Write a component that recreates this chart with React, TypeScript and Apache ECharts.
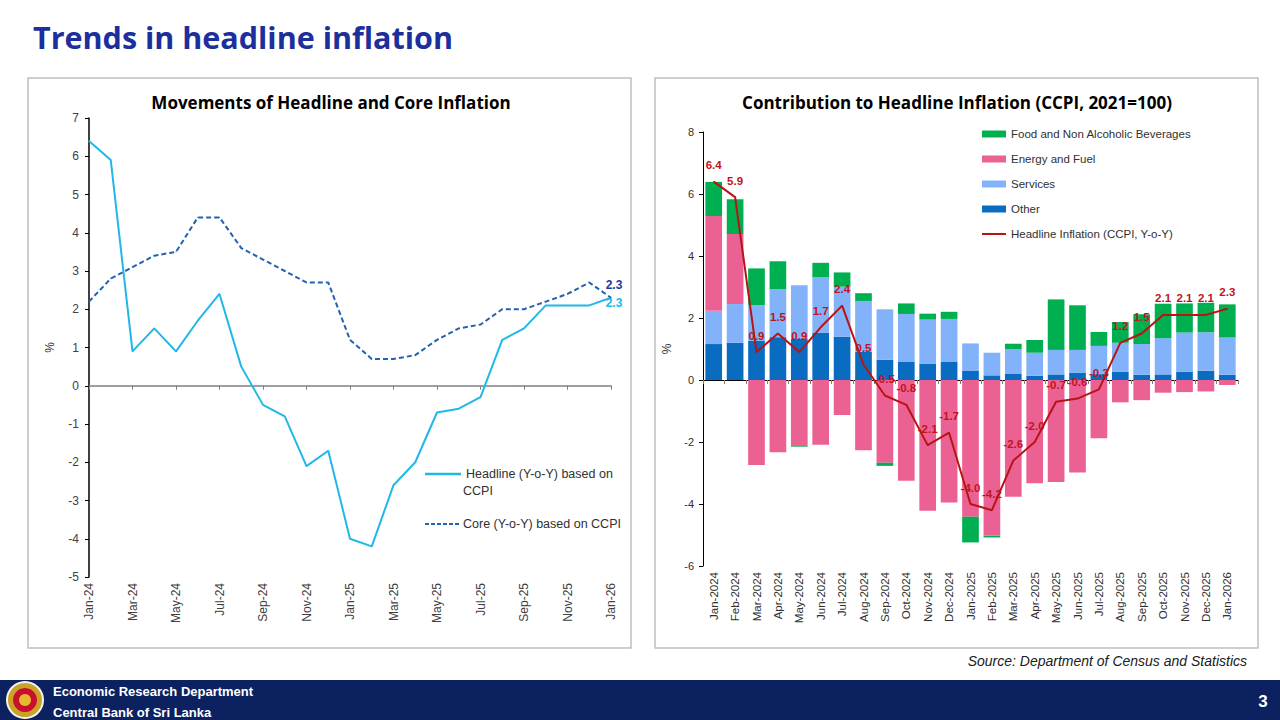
import React, { useEffect, useRef } from "react";
import * as echarts from "echarts";

const shortMonths = [
  "Jan-24","Feb-24","Mar-24","Apr-24","May-24","Jun-24","Jul-24","Aug-24","Sep-24","Oct-24","Nov-24","Dec-24",
  "Jan-25","Feb-25","Mar-25","Apr-25","May-25","Jun-25","Jul-25","Aug-25","Sep-25","Oct-25","Nov-25","Dec-25","Jan-26",
];
const longMonths = [
  "Jan-2024","Feb-2024","Mar-2024","Apr-2024","May-2024","Jun-2024","Jul-2024","Aug-2024","Sep-2024","Oct-2024","Nov-2024","Dec-2024",
  "Jan-2025","Feb-2025","Mar-2025","Apr-2025","May-2025","Jun-2025","Jul-2025","Aug-2025","Sep-2025","Oct-2025","Nov-2025","Dec-2025","Jan-2026",
];

const headline = [6.4,5.9,0.9,1.5,0.9,1.7,2.4,0.5,-0.5,-0.8,-2.1,-1.7,-4.0,-4.2,-2.6,-2.0,-0.7,-0.6,-0.3,1.2,1.5,2.1,2.1,2.1,2.3];
const core = [2.2,2.8,3.1,3.4,3.5,4.4,4.4,3.6,3.3,3.0,2.7,2.7,1.2,0.7,0.7,0.8,1.2,1.5,1.6,2.0,2.0,2.2,2.4,2.7,2.3];

const other = [1.16,1.20,1.27,1.38,1.34,1.53,1.40,0.91,0.65,0.58,0.53,0.58,0.29,0.15,0.21,0.14,0.18,0.24,0.19,0.26,0.17,0.18,0.27,0.30,0.17];
const services = [1.07,1.25,1.15,1.55,1.72,1.78,1.61,1.64,1.63,1.55,1.42,1.39,0.89,0.73,0.78,0.74,0.79,0.73,0.91,0.94,0.99,1.17,1.26,1.24,1.20];
const energy = [3.06,2.26,-2.74,-2.33,-2.14,-2.09,-1.13,-2.27,-2.67,-3.25,-4.22,-3.95,-4.41,-5.02,-3.77,-3.33,-3.29,-2.98,-1.88,-0.72,-0.65,-0.41,-0.39,-0.37,-0.16];
const food = [1.10,1.12,1.18,0.90,-0.02,0.47,0.46,0.25,-0.10,0.34,0.19,0.23,-0.83,-0.06,0.18,0.41,1.63,1.44,0.45,0.67,0.96,1.11,0.94,0.95,1.07];

const leftTitle = "Movements of Headline and Core Inflation";
const rightTitle = "Contribution to Headline Inflation (CCPI, 2021=100)";
const legendNames = [
  "Food and Non Alcoholic Beverages",
  "Energy and Fuel",
  "Services",
  "Other",
  "Headline Inflation (CCPI, Y-o-Y)",
];

const FONT = "'Liberation Sans', Arial, sans-serif";
const TFONT = "'Open Sans', 'Liberation Sans', Arial, sans-serif";

export default function App() {
  const ref = useRef<HTMLDivElement>(null);
  useEffect(() => {
    if (!ref.current) return;
    const chart = echarts.init(ref.current, null, { renderer: "svg" });
    const last = headline.length - 1;
    const labelLast = (arr: number[], label: any) =>
      arr.map((v, i) => (i === last ? { value: v, label } : v));

    const option: any = {
      animation: false,
      backgroundColor: "#ffffff",
      textStyle: { fontFamily: FONT },
      grid: [
        { left: 89, top: 118, width: 522, height: 459, outerBoundsMode: "none", containLabel: false },
        { left: 703, top: 132, width: 535, height: 434, outerBoundsMode: "none", containLabel: false },
      ],
      xAxis: [
        {
          type: "category",
          gridIndex: 0,
          data: shortMonths,
          boundaryGap: false,
          axisLine: { onZero: true, lineStyle: { color: "#808080", width: 1.5 } },
          axisTick: { show: true, interval: 1, length: 4, lineStyle: { color: "#808080" } },
          axisLabel: { interval: 1, rotate: 90, margin: 6, fontSize: 12, color: "#404040", fontFamily: FONT },
          splitLine: { show: false },
        },
        {
          type: "category",
          gridIndex: 1,
          data: longMonths,
          boundaryGap: true,
          axisLine: { onZero: true, lineStyle: { color: "#000000", width: 1 } },
          axisTick: { show: true, length: 4, lineStyle: { color: "#808080" } },
          axisLabel: { interval: 0, rotate: 90, margin: 6, fontSize: 11.5, color: "#303030", fontFamily: FONT },
          splitLine: { show: false },
        },
      ],
      yAxis: [
        {
          type: "value",
          gridIndex: 0,
          min: -5,
          max: 7,
          interval: 1,
          name: "%",
          nameLocation: "middle",
          nameGap: 33,
          nameRotate: 90,
          nameTextStyle: { fontSize: 12, color: "#303030", fontFamily: FONT },
          axisLine: { show: true, lineStyle: { color: "#000000", width: 1.5 } },
          axisTick: { show: true, length: 4, lineStyle: { color: "#000000" } },
          axisLabel: { fontSize: 12, color: "#404040", margin: 10, fontFamily: FONT },
          splitLine: { show: false },
        },
        {
          type: "value",
          gridIndex: 1,
          min: -6,
          max: 8,
          interval: 2,
          name: "%",
          nameLocation: "middle",
          nameGap: 30,
          nameRotate: 90,
          nameTextStyle: { fontSize: 12, color: "#303030", fontFamily: FONT },
          axisLine: { show: true, lineStyle: { color: "#000000", width: 1 } },
          axisTick: { show: true, length: 4, lineStyle: { color: "#000000" } },
          axisLabel: { fontSize: 11, color: "#303030", margin: 9, fontFamily: FONT },
          splitLine: { show: false },
        },
      ],
      legend: {
        orient: "vertical",
        left: 982,
        top: 128,
        padding: 0,
        itemWidth: 24,
        itemHeight: 7,
        itemGap: 13,
        symbolKeepAspect: true,
        data: [
          { name: legendNames[0], icon: "rect" },
          { name: legendNames[1], icon: "rect" },
          { name: legendNames[2], icon: "rect" },
          { name: legendNames[3], icon: "rect" },
          { name: legendNames[4], icon: "path://M0,0H24V2H0Z" },
        ],
        textStyle: { fontSize: 11.5, color: "#303030", fontFamily: FONT },
      },
      series: [
        {
          name: "Headline (Y-o-Y) based on CCPI",
          type: "line",
          xAxisIndex: 0,
          yAxisIndex: 0,
          data: labelLast(headline, {
            show: true,
            position: "bottom",
            distance: -1,
            offset: [3, 0],
            color: "#20B8E8",
            fontWeight: "bold",
            fontSize: 12,
            formatter: (p: any) => Number(p.value).toFixed(1),
          }),
          symbol: "circle",
          symbolSize: 1,
          showSymbol: true,
          lineStyle: { color: "#20B8E8", width: 2 },
          itemStyle: { color: "#20B8E8" },
          z: 3,
        },
        {
          name: "Core (Y-o-Y) based on CCPI",
          type: "line",
          xAxisIndex: 0,
          yAxisIndex: 0,
          data: labelLast(core, {
            show: true,
            position: "top",
            distance: 6,
            offset: [3, 0],
            color: "#1F3A9F",
            fontWeight: "bold",
            fontSize: 12,
            formatter: (p: any) => Number(p.value).toFixed(1),
          }),
          symbol: "circle",
          symbolSize: 1,
          showSymbol: true,
          lineStyle: { color: "#2462B0", width: 2, type: [5, 3] },
          itemStyle: { color: "#2462B0" },
          z: 3,
        },
        {
          name: legendNames[3],
          type: "bar",
          xAxisIndex: 1,
          yAxisIndex: 1,
          stack: "contrib",
          data: other,
          barCategoryGap: "22%",
          itemStyle: { color: "#0A6CC0" },
        },
        {
          name: legendNames[2],
          type: "bar",
          xAxisIndex: 1,
          yAxisIndex: 1,
          stack: "contrib",
          data: services,
          barCategoryGap: "22%",
          itemStyle: { color: "#82B2FA" },
        },
        {
          name: legendNames[1],
          type: "bar",
          xAxisIndex: 1,
          yAxisIndex: 1,
          stack: "contrib",
          data: energy,
          barCategoryGap: "22%",
          itemStyle: { color: "#EC6194" },
        },
        {
          name: legendNames[0],
          type: "bar",
          xAxisIndex: 1,
          yAxisIndex: 1,
          stack: "contrib",
          data: food,
          barCategoryGap: "22%",
          itemStyle: { color: "#00B050" },
        },
        {
          name: legendNames[4],
          type: "line",
          xAxisIndex: 1,
          yAxisIndex: 1,
          data: headline,
          symbol: "circle",
          symbolSize: 1,
          showSymbol: true,
          lineStyle: { color: "#B81414", width: 2 },
          itemStyle: { color: "#B81414" },
          label: {
            show: true,
            position: "top",
            distance: 10,
            color: "#C0141C",
            fontWeight: "bold",
            fontSize: 11.5,
            fontFamily: FONT,
            formatter: (p: any) => Number(p.value).toFixed(1),
          },
          labelLayout: { hideOverlap: false },
          z: 5,
        },
      ],
      graphic: [
        {
          type: "text",
          left: 33,
          top: 21,
          style: {
            text: "Trends in headline inflation",
            fill: "#1C2F9C",
            font: `bold 30.5px ${TFONT}`,
          },
        },
        {
          type: "rect",
          shape: { x: 28, y: 78, width: 603, height: 570 },
          style: { fill: "none", stroke: "#BFBFBF", lineWidth: 1.5 },
        },
        {
          type: "rect",
          shape: { x: 655, y: 78, width: 603, height: 570 },
          style: { fill: "none", stroke: "#BFBFBF", lineWidth: 1.5 },
        },
        {
          type: "text",
          x: 331,
          y: 102,
          style: {
            text: leftTitle,
            fill: "#000000",
            font: `bold 17px ${TFONT}`,
            align: "center",
            verticalAlign: "middle",
          },
        },
        {
          type: "text",
          x: 957,
          y: 102,
          style: {
            text: rightTitle,
            fill: "#000000",
            font: `bold 17px ${TFONT}`,
            align: "center",
            verticalAlign: "middle",
          },
        },
        {
          type: "line",
          shape: { x1: 425, y1: 474, x2: 461, y2: 474 },
          style: { stroke: "#20B8E8", lineWidth: 2.5 },
        },
        {
          type: "text",
          x: 466,
          y: 474,
          style: {
            text: "Headline (Y-o-Y) based on",
            fill: "#303030",
            font: `12.5px ${FONT}`,
            verticalAlign: "middle",
          },
        },
        {
          type: "text",
          x: 463,
          y: 491,
          style: { text: "CCPI", fill: "#303030", font: `12.5px ${FONT}`, verticalAlign: "middle" },
        },
        {
          type: "line",
          shape: { x1: 425, y1: 524, x2: 461, y2: 524 },
          style: { stroke: "#2462B0", lineWidth: 2, lineDash: [4, 2] },
        },
        {
          type: "text",
          x: 463,
          y: 524,
          style: {
            text: "Core (Y-o-Y) based on CCPI",
            fill: "#303030",
            font: `12.5px ${FONT}`,
            verticalAlign: "middle",
          },
        },
        {
          type: "text",
          x: 1247,
          y: 661,
          style: {
            text: "Source: Department of Census and Statistics",
            fill: "#202020",
            font: `italic 14px ${FONT}`,
            align: "right",
            verticalAlign: "middle",
          },
        },
        {
          type: "rect",
          shape: { x: 0, y: 680, width: 1280, height: 40 },
          style: { fill: "#0B2160" },
        },
        { type: "circle", shape: { cx: 25, cy: 700, r: 19 }, style: { fill: "#F2F2F2" } },
        { type: "circle", shape: { cx: 25, cy: 700, r: 17 }, style: { fill: "#C9A227" } },
        { type: "circle", shape: { cx: 25, cy: 700, r: 12 }, style: { fill: "#C8102E" } },
        { type: "circle", shape: { cx: 25, cy: 700, r: 6 }, style: { fill: "#E8B830" } },
        {
          type: "text",
          x: 53,
          y: 691,
          style: {
            text: "Economic Research Department",
            fill: "#FFFFFF",
            font: `bold 13px ${FONT}`,
            verticalAlign: "middle",
          },
        },
        {
          type: "text",
          x: 53,
          y: 712,
          style: {
            text: "Central Bank of Sri Lanka",
            fill: "#FFFFFF",
            font: `bold 13px ${FONT}`,
            verticalAlign: "middle",
          },
        },
        {
          type: "text",
          x: 1263,
          y: 701,
          style: {
            text: "3",
            fill: "#FFFFFF",
            font: `bold 17px ${FONT}`,
            align: "center",
            verticalAlign: "middle",
          },
        },
      ],
    };
    chart.setOption(option);
    return () => chart.dispose();
  }, []);

  return (
    <div
      ref={ref}
      style={{ position: "absolute", left: 0, top: 0, width: 1280, height: 720, background: "#fff" }}
    />
  );
}
